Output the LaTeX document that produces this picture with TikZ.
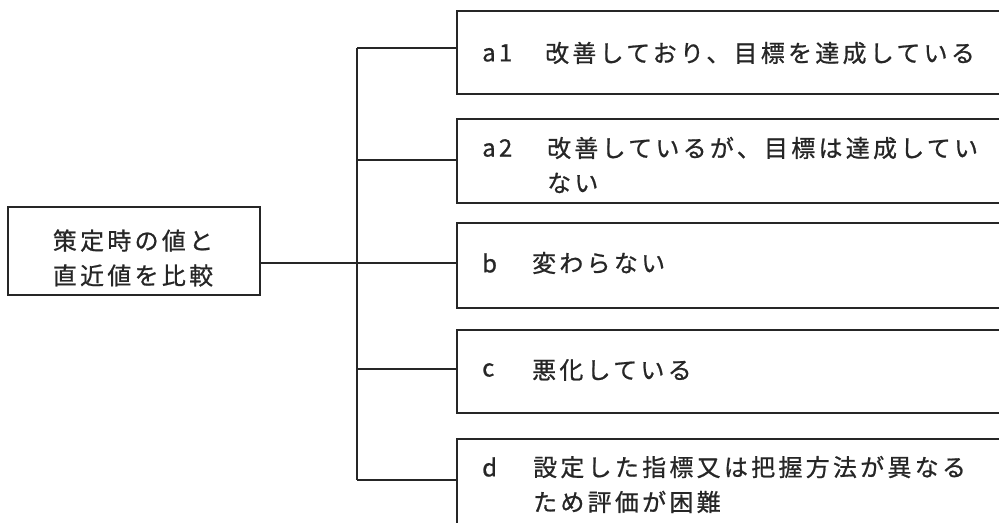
\documentclass[tikz,border=0pt]{standalone}
\usepackage{fontspec}
\setmainfont[LetterSpace=14, FakeBold=0.8]{Noto Sans CJK JP}
\begin{document}
\begin{tikzpicture}[x=1bp,y=-1bp,
  line/.style={draw=black!85, line width=1.6bp},
  box/.style={line, rectangle, inner sep=0pt, anchor=north west},
  txt/.style={inner sep=0pt, anchor=west, font=\fontsize{24}{35}\selectfont, text=black!85},
  mtxt/.style={txt, align=left}]
\useasboundingbox (0,0) rectangle (999,523);
\clip (0,0) rectangle (999,523);
\fill[white] (0,0) rectangle (999,523);
% source
\node[line, rectangle, inner sep=0pt, minimum width=252bp, minimum height=88bp] (src) at (134,251) {};
\node[mtxt, anchor=center] (srct) at (133,258) {策定時の値と\\直近値を比較};
% target boxes
\node[box, minimum width=600bp, minimum height=83bp] (a1) at (456,10) {};
\node[box, minimum width=600bp, minimum height=84bp] (a2) at (456,118) {};
\node[box, minimum width=600bp, minimum height=85bp] (b) at (456,222) {};
\node[box, minimum width=600bp, minimum height=83bp] (c) at (456,329) {};
\node[box, minimum width=600bp, minimum height=86bp] (d) at (456,438) {};
% trunk
\coordinate (top) at (357,48);
\coordinate (bot) at (357,480);
\coordinate (jc) at (357,369);
\coordinate (ja2) at (357,160);
\draw[line] (top) -- (bot);
\draw[line] (top) -- (top -| a1.west);
\draw[line] (ja2) -- (ja2 -| a2.west);
\draw[line] ([yshift=-12bp]src.east) -- ([yshift=-12bp]src.east -| b.west);
\draw[line] (jc) -- (jc -| c.west);
\draw[line] (bot) -- (bot -| d.west);
% labels
\node[txt] (la1) at (482,53) {a1};
\node[txt] (ta1) at (545,53) {改善しており、目標を達成している};
\node[txt] (la2) at (482,148) {a2};
\node[mtxt] (ta2) at (547,165) {改善しているが、目標は達成してい\\ない};
\node[txt] (lb) at (482,263) {b};
\node[txt] (tb) at (532,263) {変わらない};
\node[txt] (lc) at (482,370) {c};
\node[txt] (tc) at (532,370) {悪化している};
\node[txt] (ld) at (482,467) {d};
\node[mtxt] (td) at (533,484.5) {設定した指標又は把握方法が異なる\\ため評価が困難};
\end{tikzpicture}
\end{document}
